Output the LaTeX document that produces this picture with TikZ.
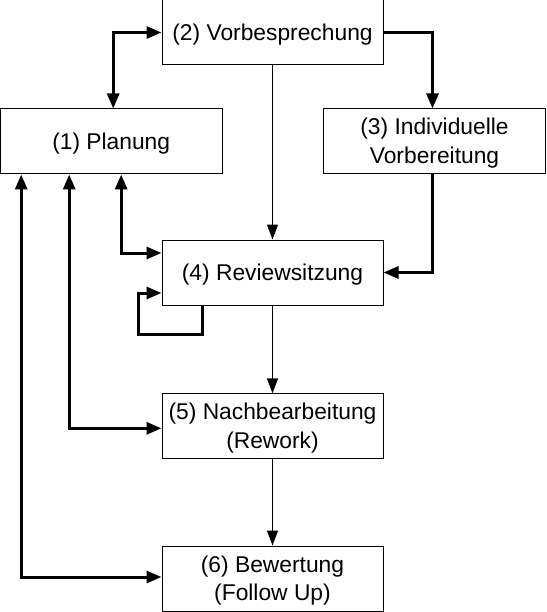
\documentclass[tikz,border=0pt]{standalone}
\usepackage{fontspec}
\setmainfont{Liberation Sans}
\usetikzlibrary{arrows.meta}
\begin{document}
\begin{tikzpicture}[x=1pt,y=-1pt,
  box/.style={draw,line width=1pt,minimum width=221pt,minimum height=65pt,inner sep=0pt},
  txt/.style={align=center,inner sep=0pt,yshift=-1.8pt,font=\fontsize{22.8}{28.4}\selectfont},
  thickline/.style={line width=3pt,-{Triangle[length=15pt,width=12pt]}},
  thickboth/.style={line width=3pt,{Triangle[length=15pt,width=12pt]}-{Triangle[length=15pt,width=12pt]}},
  thinline/.style={line width=1.5pt,-{Triangle[length=15pt,width=11pt]}}]
\useasboundingbox (0,0) rectangle (546,612);
\node[box,label={[txt]center:(2) Vorbesprechung}] (n2) at (272.5,32.5) {};
\node[box,minimum width=222pt,label={[txt]center:(1) Planung}] (n1) at (111.2,141.5) {};
\node[box,minimum width=222pt,label={[txt]center:(3) Individuelle\\Vorbereitung}] (n3) at (434.5,141.5) {};
\node[box,label={[txt]center:(4) Reviewsitzung}] (n4) at (272.5,272.5) {};
\node[box,label={[txt]center:(5) Nachbearbeitung\\(Rework)}] (n5) at (272.5,426.3) {};
\node[box,label={[txt]center:(6) Bewertung\\(Follow Up)}] (n6) at (272.5,578.5) {};
\draw[thickboth] (n2.west) -| ([xshift=2pt]n1.north);
\draw[thickline] (n2.east) -| ([xshift=-2pt]n3.north);
\draw[thickline] ([xshift=-2pt]n3.south) |- (n4.east);
\draw[thinline] (n2.south) -- (n4.north);
\draw[thickboth] ([xshift=10pt]n1.south) |- ([yshift=19.5pt]n4.west);
\draw[thickline] ([xshift=-70.5pt]n4.south) -- ++(0,29) -- ++(-64,0) |- ([yshift=-20.5pt]n4.west);
\draw[thickboth] ([xshift=-42pt]n1.south) |- ([yshift=-2pt]n5.west);
\draw[thickboth] ([xshift=-90pt]n1.south) |- ([yshift=1.5pt]n6.west);
\draw[thinline] (n4.south) -- (n5.north);
\draw[thinline] (n5.south) -- (n6.north);
\end{tikzpicture}
\end{document}
